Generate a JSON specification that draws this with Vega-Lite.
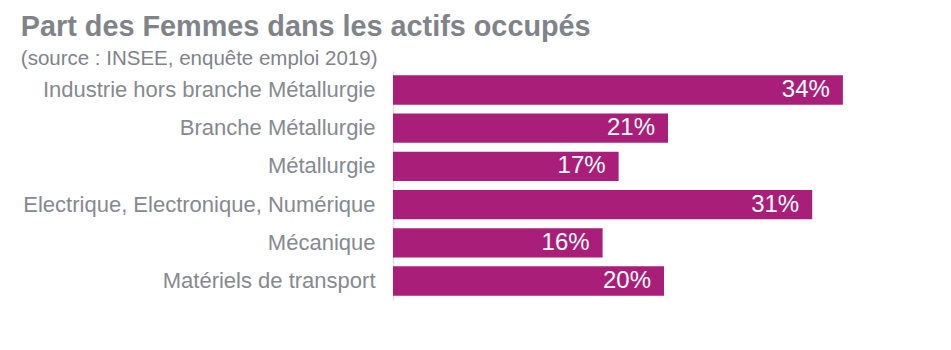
{
  "$schema": "https://vega.github.io/schema/vega-lite/v6.json",
  "width": 534,
  "height": 229,
  "padding": {"left": 20, "top": 12, "right": 5, "bottom": 5},
  "background": "white",
  "title": {
    "text": "Part des Femmes dans les actifs occupés",
    "subtitle": "(source : INSEE, enquête emploi 2019)",
    "anchor": "start",
    "frame": "bounds",
    "dx": -2,
    "font": "Liberation Sans",
    "fontSize": 28.8,
    "fontWeight": "bold",
    "color": "#808489",
    "subtitleFont": "Liberation Sans",
    "subtitleFontSize": 20.5,
    "subtitleColor": "#808489",
    "subtitlePadding": 7,
    "offset": 2
  },
  "data": {
    "values": [
      {"secteur": "Industrie hors branche Métallurgie", "part": 0.337},
      {"secteur": "Branche Métallurgie", "part": 0.206},
      {"secteur": "Métallurgie", "part": 0.169},
      {"secteur": "Electrique, Electronique, Numérique", "part": 0.314},
      {"secteur": "Mécanique", "part": 0.157},
      {"secteur": "Matériels de transport", "part": 0.203}
    ]
  },
  "encoding": {
    "y": {
      "field": "secteur",
      "type": "nominal",
      "sort": null,
      "scale": {"paddingInner": 0.23, "paddingOuter": 0.11},
      "axis": {
        "title": null,
        "ticks": false,
        "labelFont": "Liberation Sans",
        "labelFontSize": 22,
        "labelColor": "#858a8f",
        "labelPadding": 18,
        "labelLimit": 0,
        "domainColor": "#dcdcdc",
        "domainWidth": 1.5
      }
    },
    "x": {
      "field": "part",
      "type": "quantitative",
      "scale": {"domain": [0, 0.4]},
      "axis": null
    }
  },
  "layer": [
    {"mark": {"type": "bar", "color": "#a91e79"}},
    {
      "mark": {
        "type": "text",
        "align": "right",
        "baseline": "middle",
        "dx": -13,
        "color": "white",
        "font": "Liberation Sans",
        "fontSize": 24
      },
      "encoding": {"text": {"field": "part", "format": ".0%"}}
    }
  ],
  "config": {"view": {"stroke": null}}
}
